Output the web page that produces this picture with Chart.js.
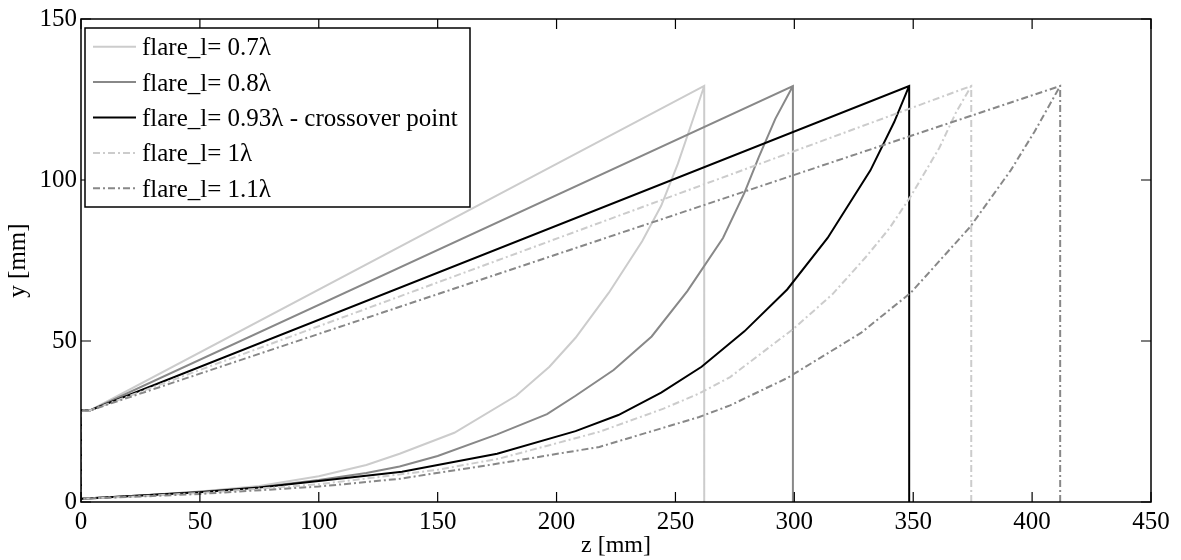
<!DOCTYPE html>
<html>
<head>
<meta charset="utf-8">
<script src="https://cdn.jsdelivr.net/npm/chart.js@4.4.1/dist/chart.umd.min.js"></script>
<style>
  html, body { margin: 0; padding: 0; background: #fff; }
  #contenedor { width: 1181px; height: 560px; }
</style>
</head>
<body>
<div id="contenedor"><canvas id="graficoBocinas" width="1181" height="560"></canvas></div>
<script>
// Etiquetas de la leyenda
const etiquetas = ["flare_l= 0.7λ", "flare_l= 0.8λ", "flare_l= 0.93λ - crossover point", "flare_l= 1λ", "flare_l= 1.1λ"];

// Largo de cada bocina (mm) y altura final de la apertura
const largos = [262.1, 299.4, 348.3, 374.4, 411.8];
const alturaBoca = 129.2;

// Garganta: recta desde z=0 hasta zGarganta a altura yGarganta
const zGarganta = 4;
const yGarganta = 28.5;

// Perfiles inferiores (curva exponencial)
const zInf07 = [0, 25, 50, 75, 100, 120, 134, 157, 183, 197, 208, 222, 236, 244, 251, 257, 262.1];
const yInf07 = [1, 2, 3.3, 5, 8, 11.5, 15, 21.5, 33, 42, 51, 65, 81, 92, 105, 118, 129.2];

const zInf08 = [0, 25, 50, 75, 100, 120, 134, 150, 175, 196, 208, 224, 240, 255, 270, 279, 285, 292, 299.4];
const yInf08 = [1, 2, 3.2, 4.6, 6.8, 9, 11, 14.3, 21, 27.3, 33, 41, 51.4, 65.5, 82, 96, 107, 119, 129.2];

const zInf093 = [0, 25, 50, 75, 100, 135, 175, 208, 226, 244, 261, 279, 297, 314, 332, 342, 348.3];
const yInf093 = [1, 2, 3, 4.5, 6.5, 9.4, 15, 22, 27, 34, 42, 53, 66, 82, 103, 118, 129.2];

const zInf10 = [0, 25, 50, 100, 150, 176, 218, 245, 260, 273, 300, 316, 330, 340, 349, 361, 368, 374.4];
const yInf10 = [1, 1.8, 2.8, 5.5, 10, 13.5, 21.8, 29, 33.7, 38.8, 54, 64.5, 76, 85, 95, 110, 121, 129.2];

const zInf11 = [0, 25, 50, 100, 134, 176, 218, 260, 273, 297, 328, 349, 374, 391, 401, 411.8];
const yInf11 = [1, 1.7, 2.5, 4.8, 7.2, 12, 17.1, 26.4, 30, 38.5, 52.5, 65, 85.5, 103, 115, 129.2];

const perfilesZ = [zInf07, zInf08, zInf093, zInf10, zInf11];
const perfilesY = [yInf07, yInf08, yInf093, yInf10, yInf11];

// Estilos de cada serie
const colores = ["rgb(204,204,204)", "rgb(136,136,136)", "rgb(0,0,0)", "rgb(204,204,204)", "rgb(136,136,136)"];
const trazos = [[], [], [], [7, 3, 2, 3], [7, 3, 2, 3]];

// Ticks del grafico
const ticksZ = [0, 50, 100, 150, 200, 250, 300, 350, 400, 450];
const ticksY = [0, 50, 100, 150];

// Se arma el contorno de cada bocina como un solo trazo continuo
function armarContorno(i) {
    let L = largos[i];
    let puntos = [];
    puntos.push({x: L, y: 0});
    puntos.push({x: L, y: alturaBoca});
    puntos.push({x: zGarganta, y: yGarganta});
    puntos.push({x: 0, y: yGarganta});
    perfilesZ[i].forEach((z, k) => {
        puntos.push({x: z, y: perfilesY[i][k]});
    });
    return puntos;
}

const datasets = etiquetas.map((et, i) => ({
    label: et,
    data: armarContorno(i),
    showLine: true,
    borderColor: colores[i],
    backgroundColor: colores[i],
    borderWidth: 2,
    borderDash: trazos[i],
    pointRadius: 0,
    fill: false,
    tension: 0,
    order: 5 - i
}));

const fuente = "'Liberation Serif', 'Times New Roman', serif";

// Plugin: marco, ticks hacia adentro y leyenda con recuadro
const marcoYLeyenda = {
    id: "marcoYLeyenda",
    afterDatasetsDraw(chart) {
        const ctx = chart.ctx;
        const a = chart.chartArea;
        const sx = chart.scales.x;
        const sy = chart.scales.y;
        ctx.save();
        ctx.strokeStyle = "#000";
        ctx.lineWidth = 1.5;
        ctx.setLineDash([]);
        ctx.strokeRect(a.left, a.top, a.right - a.left, a.bottom - a.top);

        const largoTick = 10;
        ctx.lineWidth = 1.2;
        ctx.beginPath();
        ticksZ.forEach(v => {
            let px = sx.getPixelForValue(v);
            ctx.moveTo(px, a.bottom); ctx.lineTo(px, a.bottom - largoTick);
            ctx.moveTo(px, a.top); ctx.lineTo(px, a.top + largoTick);
        });
        ticksY.forEach(v => {
            let py = sy.getPixelForValue(v);
            ctx.moveTo(a.left, py); ctx.lineTo(a.left + largoTick, py);
            ctx.moveTo(a.right, py); ctx.lineTo(a.right - largoTick, py);
        });
        ctx.stroke();

        // Leyenda
        const caja = {x: 85, y: 28, w: 385, h: 179};
        ctx.fillStyle = "#fff";
        ctx.fillRect(caja.x, caja.y, caja.w, caja.h);
        ctx.lineWidth = 1.5;
        ctx.strokeStyle = "#000";
        ctx.strokeRect(caja.x, caja.y, caja.w, caja.h);

        ctx.font = "25px " + fuente;
        ctx.textBaseline = "middle";
        ctx.textAlign = "left";
        etiquetas.forEach((et, i) => {
            let y = 46.7 + i * 35.4;
            ctx.strokeStyle = colores[i];
            ctx.lineWidth = 2;
            ctx.setLineDash(trazos[i]);
            ctx.beginPath();
            ctx.moveTo(93, y);
            ctx.lineTo(136, y);
            ctx.stroke();
            ctx.setLineDash([]);
            ctx.fillStyle = "#000";
            ctx.fillText(et, 142, y + 2);
        });
        ctx.restore();
    }
};

new Chart("graficoBocinas", {
    type: "scatter",
    data: { datasets: datasets },
    options: {
        responsive: false,
        animation: false,
        devicePixelRatio: 1,
        layout: { padding: { top: 18, right: 30, left: 0, bottom: 0 } },
        plugins: {
            legend: { display: false },
            tooltip: { enabled: false }
        },
        scales: {
            x: {
                type: "linear",
                min: 0,
                max: 450,
                afterFit: s => { s.height = 58; },
                afterBuildTicks: s => { s.ticks = ticksZ.map(v => ({value: v})); },
                grid: { display: false, drawTicks: false },
                border: { display: false },
                ticks: {
                    color: "#000",
                    padding: 5,
                    font: { family: fuente, size: 25 }
                },
                title: {
                    display: true,
                    text: "z [mm]",
                    color: "#000",
                    padding: { top: -4, bottom: 0 },
                    font: { family: fuente, size: 24 }
                }
            },
            y: {
                type: "linear",
                min: 0,
                max: 150,
                afterFit: s => { s.width = 81; },
                afterBuildTicks: s => { s.ticks = ticksY.map(v => ({value: v})); },
                grid: { display: false, drawTicks: false },
                border: { display: false },
                ticks: {
                    color: "#000",
                    padding: 4,
                    font: { family: fuente, size: 25 }
                },
                title: {
                    display: true,
                    text: "y [mm]",
                    color: "#000",
                    padding: { top: 3, bottom: 0 },
                    font: { family: fuente, size: 25 }
                }
            }
        }
    },
    plugins: [marcoYLeyenda]
});
</script>
</body>
</html>
